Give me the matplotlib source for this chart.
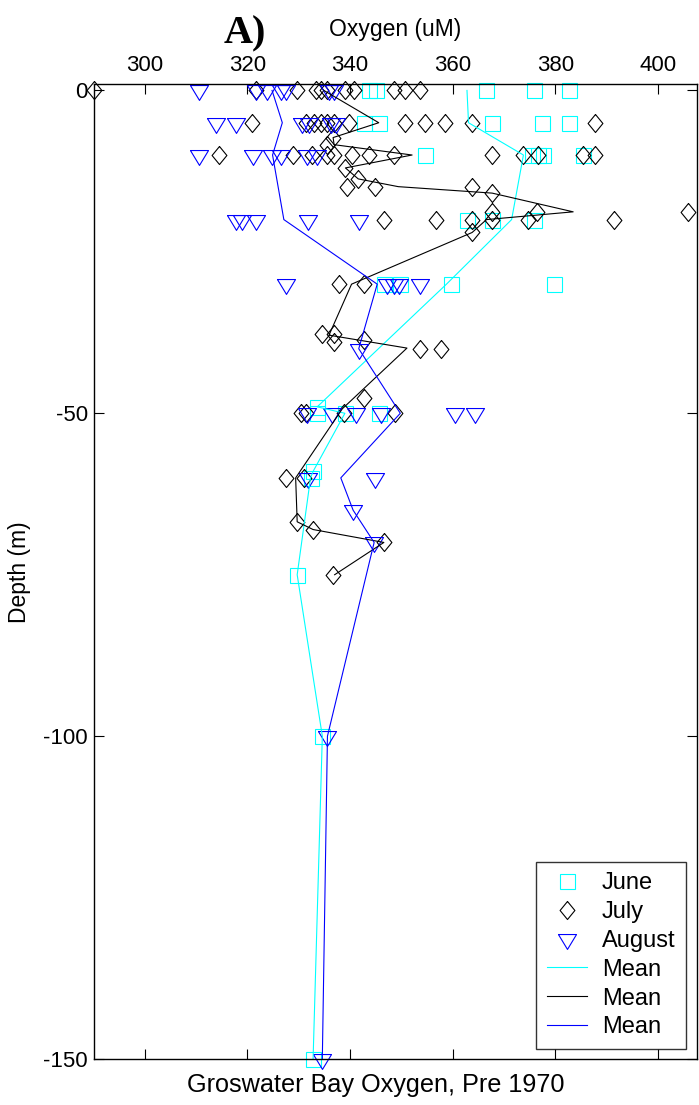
import matplotlib
matplotlib.use('Agg')
import matplotlib.pyplot as plt

# June samples (cyan squares)
june_depth = [0, 0, 0, 0, 0,
              -5, -5, -5, -5, -5,
              -10, -10, -10, -10, -10,
              -20, -20, -20,
              -30, -30, -30, -30,
              -49, -50, -50, -50, -59, -60, -75, -100, -150]
june_oxy = [343.7, 345.0, 366.6, 375.8, 382.7,
            342.7, 345.6, 367.7, 377.5, 382.7,
            354.7, 375.4, 376.6, 377.7, 385.5,
            362.8, 367.7, 375.8,
            346.6, 349.8, 359.6, 379.7,
            333.6, 333.6, 339.0, 345.6, 332.8, 332.3, 329.7, 334.6, 332.8]

# July samples (black diamonds)
july_depth = [0] * 11 + [-5] * 12 + [-7.3, -8.4] + [-10] * 13 + \
             [-12, -13.7, -14.9, -14.9, -14.9, -15.9, -18.8, -18.8, -18.8] + \
             [-20] * 6 + [-22, -30, -30, -37.7, -37.7, -39, -38.6, -40, -40,
                          -47.7, -50, -50, -50, -50, -60, -60, -66.8, -68, -70, -75]
july_oxy = [290.0, 321.6, 329.7, 333.3, 334.3, 335.6, 339.1, 340.8, 348.5, 350.8, 353.7,
            320.9, 331.4, 333.0, 334.3, 335.6, 336.9, 339.8, 350.8, 354.7, 358.6, 363.8, 387.8,
            336.7, 335.6,
            314.5, 328.8, 332.6, 335.6, 336.9, 340.4, 343.7, 348.5, 367.7, 373.7, 376.6, 385.5, 387.8,
            339.1, 341.5, 339.5, 344.8, 363.8, 367.7, 367.7, 376.4, 405.8,
            346.6, 356.8, 363.8, 367.7, 374.7, 391.5,
            363.8, 337.8, 342.7, 334.6, 336.9, 336.9, 342.7, 353.6, 357.8,
            342.7, 330.4, 331.4, 338.9, 348.7, 327.6, 331.0, 329.6, 332.8, 346.6, 336.7]

# August samples (blue triangles)
aug_depth = [0] * 7 + [-5] * 6 + [-10] * 6 + [-20] * 5 + [-30] * 5 + [-40] + \
            [-50] * 6 + [-60, -60, -65, -70, -100, -150]
aug_oxy = [310.6, 321.6, 323.9, 326.5, 327.5, 335.9, 336.9,
           313.9, 317.7, 330.7, 332.0, 336.3, 337.3,
           310.6, 321.0, 324.8, 326.5, 331.7, 333.5,
           317.7, 319.0, 321.6, 331.9, 341.7,
           327.6, 347.2, 348.5, 349.5, 353.7,
           341.7,
           331.7, 336.4, 341.1, 346.0, 360.5, 364.4,
           331.9, 344.8, 340.6, 344.7, 335.6, 334.6]

# monthly mean profiles
june_mean_depth = [0, -5, -10, -20, -30, -49, -50, -59, -60, -75, -100, -150]
june_mean_oxy = [362.8, 363.1, 373.8, 371.5, 358.8, 333.6, 339.0, 332.8, 332.3, 329.7, 334.6, 332.8]

july_mean_depth = [0, -5, -7.3, -8.4, -10, -12, -13.7, -14.9, -15.9, -18.8, -20, -22,
                   -30, -37.9, -39.9, -49.3, -60, -66.8, -68, -70, -75]
july_mean_oxy = [334.9, 345.6, 336.7, 336.9, 352.1, 339.1, 341.6, 349.4, 367.7, 383.5, 366.6, 363.8,
                 340.3, 335.9, 351.1, 338.5, 329.4, 329.7, 332.8, 346.6, 337.0]

aug_mean_depth = [0, -5, -10, -20, -30, -40, -50, -60, -65, -70, -100, -150]
aug_mean_oxy = [324.8, 326.8, 324.9, 327.1, 345.3, 341.7, 349.8, 338.2, 340.6, 344.7, 335.6, 334.6]

plt.rcParams['font.family'] = ['Liberation Sans', 'DejaVu Sans']
plt.rcParams['axes.unicode_minus'] = False

fig = plt.figure(figsize=(6.99, 11.05), dpi=100)
ax = fig.add_axes([0.1338, 0.0416, 0.8638, 0.8824])

diamond = [(0, 1), (0.82, 0), (0, -1), (-0.82, 0), (0, 1)]
tri_down = [(-1, 0.55), (1, 0.55), (0, -1.1), (-1, 0.55)]

ax.plot(june_oxy, june_depth, ls='none', marker='s', ms=10.8, mfc='none', mec='cyan', mew=0.8,
        clip_on=False, label='June')
ax.plot(july_oxy, july_depth, ls='none', marker=diamond, ms=13, mfc='none', mec='black', mew=0.8,
        clip_on=False, label='July')
ax.plot(aug_oxy, aug_depth, ls='none', marker=tri_down, ms=14.3, mfc='none', mec='blue', mew=0.8,
        clip_on=False, label='August')
ax.plot(june_mean_oxy, june_mean_depth, color='cyan', lw=0.8, label='Mean')
ax.plot(july_mean_oxy, july_mean_depth, color='black', lw=0.8, label='Mean')
ax.plot(aug_mean_oxy, aug_mean_depth, color='blue', lw=0.8, label='Mean')

ax.set_xlim(290, 407.7)
ax.set_ylim(-150, 1)
ax.set_xticks([300, 320, 340, 360, 380, 400])
ax.set_yticks([0, -50, -100, -150])
ax.tick_params(direction='in', top=True, bottom=True, left=True, right=True,
               labeltop=True, labelbottom=False, length=7, width=0.8, labelsize=16, pad=6)
ax.tick_params(axis='y', pad=4)
for s in ax.spines.values():
    s.set_linewidth(1.0)

ax.xaxis.set_label_position('top')
ax.set_xlabel('Oxygen (uM)', fontsize=16.5, labelpad=13.5)

fig.text(20 / 699, 1 - 572 / 1105, 'Depth (m)', rotation=90, ha='center', va='center', fontsize=16.5)
fig.text(375.5 / 699, 1 - 1085 / 1105, 'Groswater Bay Oxygen, Pre 1970', ha='center', va='center',
         fontsize=18.2)
fig.text(245 / 699, 1 - 34 / 1105, 'A)', ha='center', va='center', fontsize=29,
         family='Liberation Serif', weight='bold')

leg = ax.legend(loc='lower right', bbox_to_anchor=(1 - 11 / 604, 10 / 975), fontsize=17,
                frameon=True, fancybox=False, borderaxespad=0, handlelength=1.7,
                handletextpad=0.65, labelspacing=0.29, borderpad=0.45)
leg.get_frame().set_edgecolor('black')
leg.get_frame().set_linewidth(1.0)

fig.savefig('out.png', dpi=100)
